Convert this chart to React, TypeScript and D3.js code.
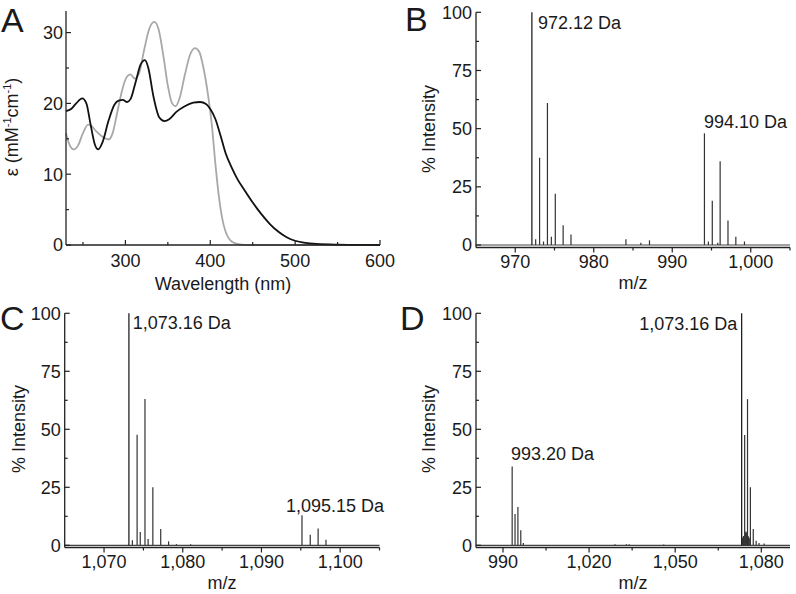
import React from "react";
import * as d3 from "d3";

// ---------- Panel A: UV-Vis absorption ----------
const wlBlack = [230, 236, 242, 249, 254, 259, 264, 268, 273, 280, 287, 292, 297, 302, 306, 312, 318, 323, 327, 333, 340, 346, 352, 360, 370, 380, 388, 395, 400, 406, 412, 418, 425, 432, 440, 450, 460, 470, 480, 490, 500, 510, 525, 550, 575, 600];
const epsBlack = [18.9, 19.2, 20.0, 20.7, 20.0, 17.0, 14.2, 13.5, 14.5, 17.5, 19.8, 20.4, 20.5, 20.2, 20.6, 23.0, 25.5, 26.1, 25.0, 21.0, 18.0, 17.5, 17.8, 18.8, 19.6, 20.1, 20.2, 19.9, 19.2, 17.8, 15.5, 13.0, 11.0, 9.3, 7.8, 6.0, 4.4, 3.0, 1.9, 1.1, 0.6, 0.35, 0.15, 0.05, 0.02, 0];
const wlGrey = [230, 234, 239, 244, 250, 256, 260, 266, 273, 280, 285, 290, 296, 301, 306, 311, 316, 322, 328, 334, 339, 345, 350, 355, 359, 364, 370, 376, 382, 387, 392, 397, 402, 406, 410, 414, 418, 422, 428, 435, 445, 600];
const epsGrey = [15.8, 14.2, 13.5, 14.0, 15.8, 17.0, 16.8, 16.0, 15.3, 14.9, 15.8, 18.5, 21.8, 23.6, 24.1, 23.5, 24.2, 27.5, 30.5, 31.5, 30.5, 26.5, 22.5, 20.0, 19.6, 20.8, 24.0, 26.8, 27.8, 27.3, 25.0, 21.5, 16.8, 11.5, 7.0, 3.8, 1.9, 0.9, 0.3, 0.1, 0, 0];
const uvMajorTicksX = [300, 400, 500, 600];
const uvMinorTicksX = [250, 350, 450, 550];
const uvMajorTicksY = [0, 10, 20, 30];
const uvMinorTicksY = [5, 15, 25];

// ---------- Panel B ----------
const mzB = [972.12, 972.6, 973.1, 973.6, 974.1, 974.6, 975.1, 976.1, 977.1, 984.1, 986.0, 987.1, 994.1, 994.6, 995.1, 995.8, 996.1, 997.1, 998.1, 999.2];
const intB = [100, 2.5, 37.5, 1.5, 61, 3.5, 22, 8.5, 4.5, 2.5, 1, 2, 48, 1.5, 19, 1, 36, 10.5, 3.5, 1.5];
const ticksBMajor = [970, 980, 990, 1000];
const ticksBMinor = [975, 985, 995, 1005];
const labelsB = ["972.12 Da", "994.10 Da"];

// ---------- Panel C ----------
const mzC = [1073.16, 1073.6, 1074.2, 1074.6, 1075.2, 1075.6, 1076.2, 1077.2, 1078.2, 1079.2, 1081.0, 1095.15, 1096.2, 1097.2, 1098.2];
const intC = [100, 2.2, 47.6, 5.7, 63.1, 2.7, 25, 7, 1.7, 0.5, 0.5, 12.9, 4.6, 7.2, 2.4];
const ticksCMajor = [1070, 1080, 1090, 1100];
const ticksCMinor = [1075, 1085, 1095, 1105];
const labelsC = ["1,073.16 Da", "1,095.15 Da"];

// ---------- Panel D ----------
const mzD = [993.2, 994.2, 995.2, 996.2, 997.1, 1029, 1033, 1034, 1046, 1073.16, 1073.4, 1073.6, 1073.8, 1074.2, 1074.4, 1074.6, 1074.8, 1075.2, 1075.4, 1075.6, 1075.8, 1076.2, 1077.2, 1078.2, 1079.2, 1081];
const intD = [34, 13.5, 16.5, 6.5, 1, 0.5, 0.5, 0.5, 0.3, 100, 3, 3.5, 4, 47.5, 5, 6, 5.5, 63, 4, 3.5, 3, 25, 7, 2, 1, 0.8];
const ticksDMajor = [990, 1020, 1050, 1080];
const ticksDMinor = [1005, 1035, 1065];
const labelsD = ["993.20 Da", "1,073.16 Da"];

const intMajorTicks = [0, 25, 50, 75, 100];
const intMinorTicks = [12.5, 37.5, 62.5, 87.5];

const FONT = "'Liberation Sans', Arial, Helvetica, sans-serif";
const TXT = "#1a1a1a";
const AX = "#222";
const fmt = d3.format(",");

type AxisProps = {
  x: d3.ScaleLinear<number, number>;
  y: d3.ScaleLinear<number, number>;
  xMajor: number[];
  xMinor: number[];
  yMajor: number[];
  yMinor: number[];
  xTickDir: number; // -1 up (inward), +1 down (outward)
  xLabelY: number;
  yLabelGap: number;
};

function Axes({ x, y, xMajor, xMinor, yMajor, yMinor, xTickDir, xLabelY, yLabelGap }: AxisProps) {
  const [x0, x1] = x.range();
  const [yb, yt] = y.range();
  return (
    <g>
      <line x1={x0} x2={x1} y1={yb} y2={yb} stroke={AX} strokeWidth={1.3} />
      <line x1={x0} x2={x0} y1={yb} y2={yt} stroke={AX} strokeWidth={1.3} />
      {xMajor.map((t) => (
        <g key={"xM" + t}>
          <line x1={x(t)} x2={x(t)} y1={yb} y2={yb + xTickDir * 5} stroke={AX} strokeWidth={1.2} />
          <text x={x(t)} y={xLabelY} textAnchor="middle" fontSize={18} fontFamily={FONT} fill={TXT}>
            {fmt(t)}
          </text>
        </g>
      ))}
      {xMinor.map((t) => (
        <line key={"xm" + t} x1={x(t)} x2={x(t)} y1={yb} y2={yb + xTickDir * 3} stroke={AX} strokeWidth={1.2} />
      ))}
      {yMajor.map((t) => (
        <g key={"yM" + t}>
          <line x1={x0} x2={x0 + 5} y1={y(t)} y2={y(t)} stroke={AX} strokeWidth={1.2} />
          <text x={x0 - yLabelGap} y={y(t)} dy="0.36em" textAnchor="end" fontSize={18} fontFamily={FONT} fill={TXT}>
            {fmt(t)}
          </text>
        </g>
      ))}
      {yMinor.map((t) => (
        <line key={"ym" + t} x1={x0} x2={x0 + 3} y1={y(t)} y2={y(t)} stroke={AX} strokeWidth={1.2} />
      ))}
    </g>
  );
}

type SpecProps = {
  letter: string;
  letterX: number;
  letterY: number;
  xDomain: [number, number];
  xRange: [number, number];
  yRange: [number, number];
  yZero: number;
  mz: number[];
  inten: number[];
  xMajor: number[];
  xMinor: number[];
  xLabelY: number;
  titleY: number;
  yTitleX: number;
  yTitleY: number;
  labels: string[];
  labelPos: { x: number; y: number; anchor: "start" | "end" }[];
};

function Spectrum(p: SpecProps) {
  const x = d3.scaleLinear().domain(p.xDomain).range(p.xRange);
  // axis baseline sits slightly below the data zero line
  const pxPerUnit = (p.yZero - p.yRange[1]) / 100;
  const yMin = -(p.yRange[0] - p.yZero) / pxPerUnit;
  const y = d3.scaleLinear().domain([yMin, 100]).range(p.yRange);
  return (
    <g>
      <text x={p.letterX} y={p.letterY} fontSize={34} fontFamily={FONT} fill={TXT}>
        {p.letter}
      </text>
      <line x1={p.xRange[0]} x2={p.xRange[1]} y1={y(0)} y2={y(0)} stroke="#444" strokeWidth={1.2} />
      {p.mz.map((m, i) => (
        <line key={i} x1={x(m)} x2={x(m)} y1={y(0)} y2={y(p.inten[i])} stroke={p.inten[i] >= 99 ? "#111" : "#333"} strokeWidth={1.2} />
      ))}
      <Axes
        x={x}
        y={y}
        xMajor={p.xMajor}
        xMinor={p.xMinor}
        yMajor={intMajorTicks}
        yMinor={intMinorTicks}
        xTickDir={1}
        xLabelY={p.xLabelY}
        yLabelGap={4}
      />
      <text x={(p.xRange[0] + p.xRange[1]) / 2} y={p.titleY} textAnchor="middle" fontSize={18} fontFamily={FONT} fill={TXT}>
        m/z
      </text>
      <text
        transform={`translate(${p.yTitleX},${p.yTitleY}) rotate(-90)`}
        textAnchor="middle"
        fontSize={18}
        fontFamily={FONT}
        fill={TXT}
      >
        % Intensity
      </text>
      {p.labels.map((l, i) => (
        <text key={l} x={p.labelPos[i].x} y={p.labelPos[i].y} textAnchor={p.labelPos[i].anchor} fontSize={18} fontFamily={FONT} fill={TXT}>
          {l}
        </text>
      ))}
    </g>
  );
}

function UVPanel() {
  const x = d3.scaleLinear().domain([230, 600]).range([66, 380]);
  const y = d3.scaleLinear().domain([0, 33.05]).range([245, 11]);
  const line = d3
    .line<[number, number]>()
    .x((d) => x(d[0]))
    .y((d) => y(d[1]))
    .curve(d3.curveMonotoneX);
  const black = wlBlack.map((w, i) => [w, epsBlack[i]] as [number, number]);
  const grey = wlGrey.map((w, i) => [w, epsGrey[i]] as [number, number]);
  return (
    <g>
      <text x={1} y={32} fontSize={34} fontFamily={FONT} fill={TXT}>
        A
      </text>
      <path d={line(grey) || ""} fill="none" stroke="#a8a8a8" strokeWidth={1.8} />
      <path d={line(black) || ""} fill="none" stroke="#111" strokeWidth={1.8} />
      <Axes
        x={x}
        y={y}
        xMajor={uvMajorTicksX}
        xMinor={uvMinorTicksX}
        yMajor={uvMajorTicksY}
        yMinor={uvMinorTicksY}
        xTickDir={-1}
        xLabelY={267}
        yLabelGap={3}
      />
      <text x={223} y={290} textAnchor="middle" fontSize={18} fontFamily={FONT} fill={TXT}>
        Wavelength (nm)
      </text>
      <text transform="translate(18,127) rotate(-90)" textAnchor="middle" fontSize={18} fontFamily={FONT} fill={TXT}>
        ε (mM
        <tspan fontSize={11} dy={-7}>-1</tspan>
        <tspan dy={7}>cm</tspan>
        <tspan fontSize={11} dy={-7}>-1</tspan>
        <tspan dy={7}>)</tspan>
      </text>
    </g>
  );
}

export default function App() {
  return (
    <svg
      width={796}
      height={594}
      viewBox="0 0 796 594"
      style={{ position: "absolute", left: 0, top: 0, background: "#fff" }}
    >
      <rect width={796} height={594} fill="#fff" />
      <UVPanel />
      <Spectrum
        letter="B"
        letterX={405}
        letterY={31}
        xDomain={[965, 1005]}
        xRange={[476, 790]}
        yRange={[247.5, 12.3]}
        yZero={245}
        mz={mzB}
        inten={intB}
        xMajor={ticksBMajor}
        xMinor={ticksBMinor}
        xLabelY={268}
        titleY={289}
        yTitleX={435}
        yTitleY={129}
        labels={labelsB}
        labelPos={[
          { x: 538, y: 29.3, anchor: "start" },
          { x: 704, y: 128.3, anchor: "start" },
        ]}
      />
      <Spectrum
        letter="C"
        letterX={0}
        letterY={330}
        xDomain={[1065, 1105]}
        xRange={[64.7, 379.5]}
        yRange={[547.5, 313.3]}
        yZero={545.3}
        mz={mzC}
        inten={intC}
        xMajor={ticksCMajor}
        xMinor={ticksCMinor}
        xLabelY={568}
        titleY={589}
        yTitleX={25}
        yTitleY={429}
        labels={labelsC}
        labelPos={[
          { x: 132.7, y: 329.3, anchor: "start" },
          { x: 286, y: 512.3, anchor: "start" },
        ]}
      />
      <Spectrum
        letter="D"
        letterX={400}
        letterY={330}
        xDomain={[980.6, 1090]}
        xRange={[476, 790]}
        yRange={[547.5, 313.3]}
        yZero={545.3}
        mz={mzD}
        inten={intD}
        xMajor={ticksDMajor}
        xMinor={ticksDMinor}
        xLabelY={568}
        titleY={589}
        yTitleX={435}
        yTitleY={429}
        labels={labelsD}
        labelPos={[
          { x: 511, y: 460, anchor: "start" },
          { x: 737.3, y: 330, anchor: "end" },
        ]}
      />
    </svg>
  );
}
